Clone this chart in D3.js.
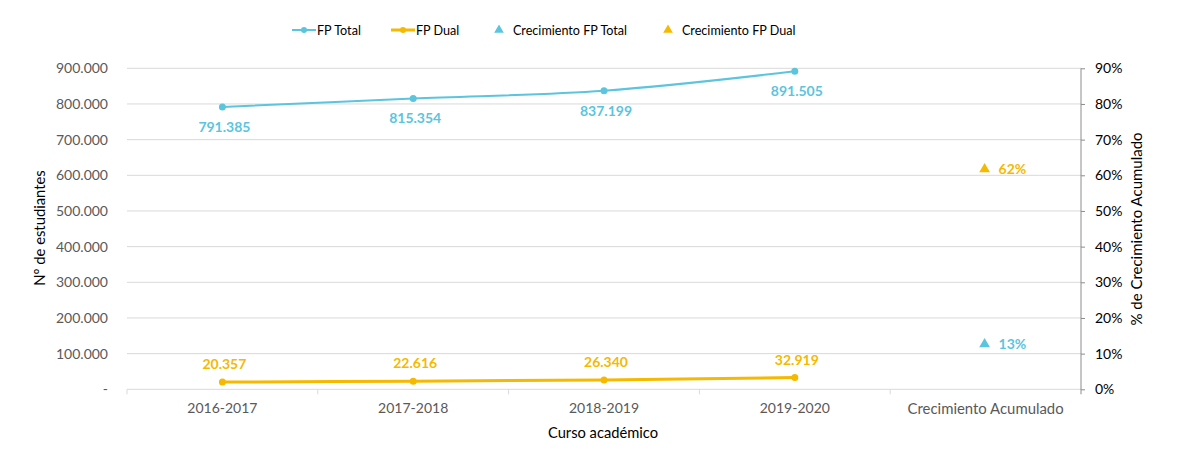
<!DOCTYPE html>
<html><head><meta charset="utf-8">
<script src="https://cdn.jsdelivr.net/npm/d3@7"></script>
<style>body{margin:0;background:#fff}svg{display:block;font-family:Lato,"Open Sans",sans-serif}</style>
</head><body><svg id="c" width="1180" height="449"></svg>
<script>
const categories = ["2016-2017","2017-2018","2018-2019","2019-2020","Crecimiento Acumulado"];
const years = ["2016-2017","2017-2018","2018-2019","2019-2020"];
const fpTotal = [791385, 815354, 837199, 891505];
const fpDual = [20357, 22616, 26340, 32919];
const growthTotal = 0.1265;
const growthDual = 0.6171;
const growthTotalLabel = "13%";
const growthDualLabel = "62%";
const leftTicks = [0,100000,200000,300000,400000,500000,600000,700000,800000,900000];
const rightTicks = [0,0.1,0.2,0.3,0.4,0.5,0.6,0.7,0.8,0.9];

const BLUE = "#5bc4de", GOLD = "#f5b900";
const svg = d3.select("#c");
const L = 127, R = 1081, T = 68.3, B = 389.3;
const x = d3.scaleBand().domain(categories).range([L, R]);
const y = d3.scaleLinear().domain([0, 900000]).range([B, T]);
const y2 = d3.scaleLinear().domain([0, 0.9]).range([B, T]);
const fmt = d3.formatLocale({decimal: ",", thousands: ".", grouping: [3], currency: ["", ""]}).format(",d");
const cx = d => x(d) + x.bandwidth() / 2;

// gridlines
svg.append("g").selectAll("line").data(leftTicks).join("line")
  .attr("x1", L).attr("x2", R).attr("y1", d => y(d)).attr("y2", d => y(d))
  .attr("stroke", "#d9d9d9").attr("stroke-width", 1);

// left axis labels
const gl = svg.append("g").attr("transform", `translate(${L},0)`)
  .call(d3.axisLeft(y).tickValues(leftTicks).tickSize(0).tickPadding(19)
    .tickFormat(d => d === 0 ? "-" : fmt(d)));
gl.select(".domain").remove();
gl.selectAll("text").attr("fill", "#595959").style("font-size", "14px").style("font-family", "Lato");

// right axis
const gr = svg.append("g").attr("transform", `translate(${R},0)`)
  .call(d3.axisRight(y2).tickValues(rightTicks).tickSize(4).tickPadding(10).tickFormat(d3.format(".0%")));
gr.select(".domain").attr("stroke", "#8c8c8c").attr("d", `M0,${T}V${B + 5}`);
gr.selectAll(".tick line").attr("stroke", "#8c8c8c");
gr.selectAll("text").attr("fill", "#000").style("font-size", "14px").style("font-family", "Lato");

// bottom axis
const gb = svg.append("g").attr("transform", `translate(0,${B})`)
  .call(d3.axisBottom(x).tickSize(0).tickPadding(14));
gb.select(".domain").remove();
gb.selectAll("text").attr("fill", "#595959").style("font-family", "Lato")
  .style("font-size", d => d === "Crecimiento Acumulado" ? "14.9px" : "14px");
svg.append("g").selectAll("line").data(categories).join("line")
  .attr("x1", d => x(d)).attr("x2", d => x(d)).attr("y1", B).attr("y2", B + 5)
  .attr("stroke", "#d9d9d9");

// axis titles
svg.append("text").attr("transform", `translate(45,228) rotate(-90)`).attr("text-anchor", "middle")
  .style("font-size", "14.8px").attr("fill", "#000").text("Nº de estudiantes");
svg.append("text").attr("transform", `translate(1142,229) rotate(-90)`).attr("text-anchor", "middle")
  .style("font-size", "15px").attr("fill", "#000").text("% de Crecimiento Acumulado");
svg.append("text").attr("x", 603).attr("y", 438).attr("text-anchor", "middle")
  .style("font-size", "14.7px").attr("fill", "#000").text("Curso académico");

// lines
const line = d3.line().x((d, i) => cx(years[i])).y(d => y(d)).curve(d3.curveCatmullRom);
svg.append("path").attr("d", line(fpTotal)).attr("fill", "none").attr("stroke", BLUE).attr("stroke-width", 2);
svg.append("path").attr("d", line(fpDual)).attr("fill", "none").attr("stroke", GOLD).attr("stroke-width", 3);
svg.append("g").selectAll("circle").data(fpTotal).join("circle")
  .attr("cx", (d, i) => cx(years[i])).attr("cy", d => y(d)).attr("r", 3.5).attr("fill", BLUE);
svg.append("g").selectAll("circle").data(fpDual).join("circle")
  .attr("cx", (d, i) => cx(years[i])).attr("cy", d => y(d)).attr("r", 3.5).attr("fill", GOLD);

// data labels
svg.append("g").selectAll("text").data(fpTotal).join("text")
  .attr("x", (d, i) => cx(years[i]) + 2).attr("y", d => y(d) + 25).attr("text-anchor", "middle")
  .attr("fill", BLUE).style("font-size", "14px").style("font-weight", "bold").text(d => fmt(d));
svg.append("g").selectAll("text").data(fpDual).join("text")
  .attr("x", (d, i) => cx(years[i]) + 2).attr("y", d => y(d) - 13).attr("text-anchor", "middle")
  .attr("fill", GOLD).style("font-size", "14px").style("font-weight", "bold").text(d => fmt(d));

// growth markers
const tri = d3.symbol().type(d3.symbolTriangle).size(50);
const gx = cx("Crecimiento Acumulado");
[[growthTotal, growthTotalLabel, BLUE], [growthDual, growthDualLabel, GOLD]].forEach(([v, lab, col]) => {
  svg.append("path").attr("d", tri()).attr("transform", `translate(${gx - 1},${y2(v)})`).attr("fill", col);
  svg.append("text").attr("x", gx + 13).attr("y", y2(v) + 5).attr("fill", col)
    .style("font-size", "14px").style("font-weight", "bold").text(lab);
});

// legend
const lg = svg.append("g");
[[292, "FP Total", BLUE, 2], [391, "FP Dual", GOLD, 3]].forEach(([lx, t, c, w]) => {
  lg.append("line").attr("x1", lx).attr("x2", lx + 24).attr("y1", 30).attr("y2", 30).attr("stroke", c).attr("stroke-width", w);
  lg.append("circle").attr("cx", lx + 12).attr("cy", 30).attr("r", 3).attr("fill", c);
  lg.append("text").attr("x", lx + 25).attr("y", 34.5).style("font-size", "12.6px").attr("fill", "#000").text(t);
});
[[499, "Crecimiento FP Total", BLUE], [668, "Crecimiento FP Dual", GOLD]].forEach(([lx, t, c]) => {
  lg.append("path").attr("d", d3.symbol().type(d3.symbolTriangle).size(40)()).attr("transform", `translate(${lx},30)`).attr("fill", c);
  lg.append("text").attr("x", lx + 14).attr("y", 34.5).style("font-size", "12.6px").attr("fill", "#000").text(t);
});
</script></body></html>
